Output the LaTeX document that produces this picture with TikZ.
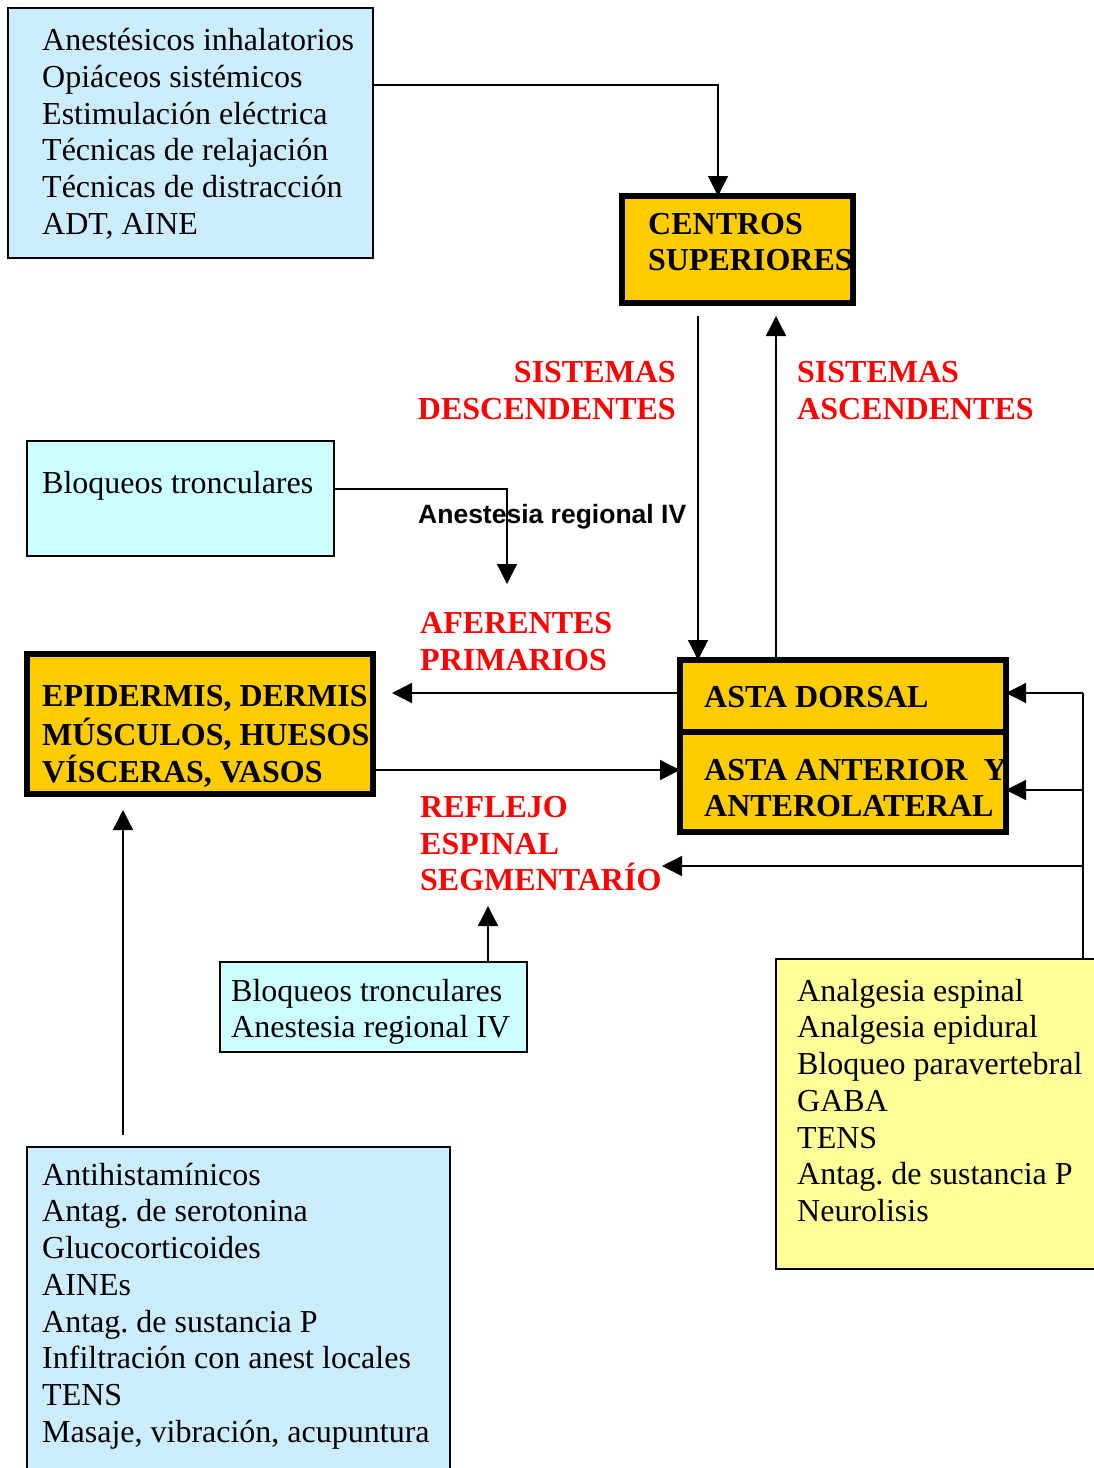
\documentclass[tikz,border=0pt]{standalone}
\usepackage{fontspec}
\setmainfont{Liberation Serif}
\newfontfamily\arialfont{Liberation Sans}
\usetikzlibrary{arrows.meta}
\definecolor{lblue}{HTML}{CCECFF}
\definecolor{lcyan}{HTML}{CCFFFF}
\definecolor{gold}{HTML}{FFCC00}
\definecolor{lyellow}{HTML}{FFFF99}
\definecolor{myred}{HTML}{FF0000}
\frenchspacing
\begin{document}
\frenchspacing
\begin{tikzpicture}[x=1pt,y=-1pt,
  thinbox/.style={draw=black, line width=1.5pt, anchor=north west, inner sep=0pt, outer sep=0pt},
  thickbox/.style={draw=black, line width=6pt, fill=gold, anchor=north west, inner sep=0pt, outer sep=0pt},
  txt/.style={anchor=north west, inner sep=0pt, align=left, font=\fontsize{32}{36.7}\selectfont\frenchspacing},
  btxt/.style={anchor=north west, inner sep=0pt, align=left, font=\fontsize{32}{36.7}\selectfont\bfseries},
  rtxt/.style={btxt, text=myred},
  arr/.style={-{Triangle[length=20pt,width=20pt]}, line width=1.4pt},
  plain/.style={line width=1.4pt}]
\clip (0,0) rectangle (1094,1468);
\fill[white] (0,0) rectangle (1094,1468);

% boxes
\node[thinbox, fill=lblue, minimum width=365pt, minimum height=250pt] (boxA) at (8,8) {};
\node[thickbox, minimum width=231pt, minimum height=107pt] (cs) at (622,196) {};
\node[thinbox, fill=lcyan, minimum width=307pt, minimum height=115pt] (boxB) at (27,441) {};
\node[thickbox, minimum width=346pt, minimum height=140pt] (epi) at (27,654) {};
\node[thickbox, minimum width=326pt, minimum height=72pt] (dorsal) at (680,660) {};
\node[thickbox, minimum width=326pt, minimum height=100pt] (anterior) at (680,732) {};
\node[thinbox, fill=lcyan, minimum width=307pt, minimum height=90pt] (boxC) at (220,962) {};
\node[thinbox, fill=lyellow, minimum width=340pt, minimum height=310pt] (yel) at (776,959) {};
\node[thinbox, fill=lblue, minimum width=423pt, minimum height=340pt] (bot) at (27,1147) {};

% texts
\node[txt] (tA) at (42,24.8) {\strut Anestésicos inhalatorios\\Opiáceos sistémicos\\Estimulación eléctrica\\Técnicas de relajación\\Técnicas de distracción\\ADT, AINE};
\node[btxt] (tCS) at (648,208.3) {\strut CENTROS\\SUPERIORES};
\node[rtxt, anchor=north east, align=right] (tDesc) at (676,356.5) {\strut SISTEMAS\\DESCENDENTES};
\node[rtxt] (tAsc) at (797,356.5) {\strut SISTEMAS\\ASCENDENTES};
\node[txt] (tB) at (42,467.3) {\strut Bloqueos tronculares};
\node[anchor=base west, inner sep=0pt, font=\arialfont\bfseries\fontsize{26.5}{30}\selectfont] (tIV) at (418,523) {Anestesia regional IV};
\node[rtxt] (tAfer) at (420,607.5) {\strut AFERENTES\\PRIMARIOS};
\node[btxt] (tEpi) at (42,680.3) {\strut EPIDERMIS, DERMIS\\MÚSCULOS, HUESOS\\VÍSCERAS, VASOS};
\node[btxt] (tDor) at (704,681.3) {\strut ASTA DORSAL};
\node[btxt] (tAnt) at (704,754.3) {\strut ASTA ANTERIOR\ \ Y\\ANTEROLATERAL};
\node[rtxt] (tRef) at (420,791.5) {\strut REFLEJO\\ESPINAL\\SEGMENTARÍO};
\node[txt] (tC) at (231,975.3) {\strut Bloqueos tronculares\\Anestesia regional IV};
\node[txt] (tY) at (797,975.3) {\strut Analgesia espinal\\Analgesia epidural\\Bloqueo paravertebral\\GABA\\TENS\\Antag. de sustancia P\\Neurolisis};
\node[txt] (tBot) at (42,1159.3) {\strut Antihistamínicos\\Antag. de serotonina\\Glucocorticoides\\AINEs\\Antag. de sustancia P\\Infiltración con anest locales\\TENS\\Masaje, vibración, acupuntura};

% coordinates
\coordinate (bendA) at (718,85);
\coordinate (dx) at (698,0);
\coordinate (ux) at (776,0);
\coordinate (bendB) at (507,489);
\coordinate (tipB) at (507,584);
\coordinate (r0) at (0,693);
\coordinate (r1) at (0,770);
\coordinate (rtop) at (1083,693);
\coordinate (rmid) at (1083,790);
\coordinate (rbot) at (1083,866);
\coordinate (reftip) at (662,866);
\coordinate (cup) at (488,906);
\coordinate (bx) at (123,0);

% connectors
\draw[arr] (boxA.east |- bendA) -- (bendA) -- (cs.north -| bendA);
\draw[arr, shorten <=13pt] (cs.south -| dx) -- (dorsal.north -| dx);
\draw[arr, shorten >=13pt] (dorsal.north -| ux) -- (cs.south -| ux);
\draw[arr] (boxB.east |- bendB) -- (bendB) -- (tipB);
\draw[arr, shorten >=19pt] (dorsal.west |- r0) -- (epi.east |- r0);
\draw[arr] (epi.east |- r1) -- (anterior.west |- r1);
\draw[plain] (yel.north -| rtop) -- (rtop);
\draw[arr] (rtop) -- (dorsal.east |- rtop);
\draw[arr] (rmid) -- (anterior.east |- rmid);
\draw[arr] (rbot) -- (reftip);
\draw[arr] (boxC.north -| cup) -- (cup);
\draw[arr, shorten <=12pt, shorten >=16pt] (bot.north -| bx) -- (epi.south -| bx);
\end{tikzpicture}
\end{document}
